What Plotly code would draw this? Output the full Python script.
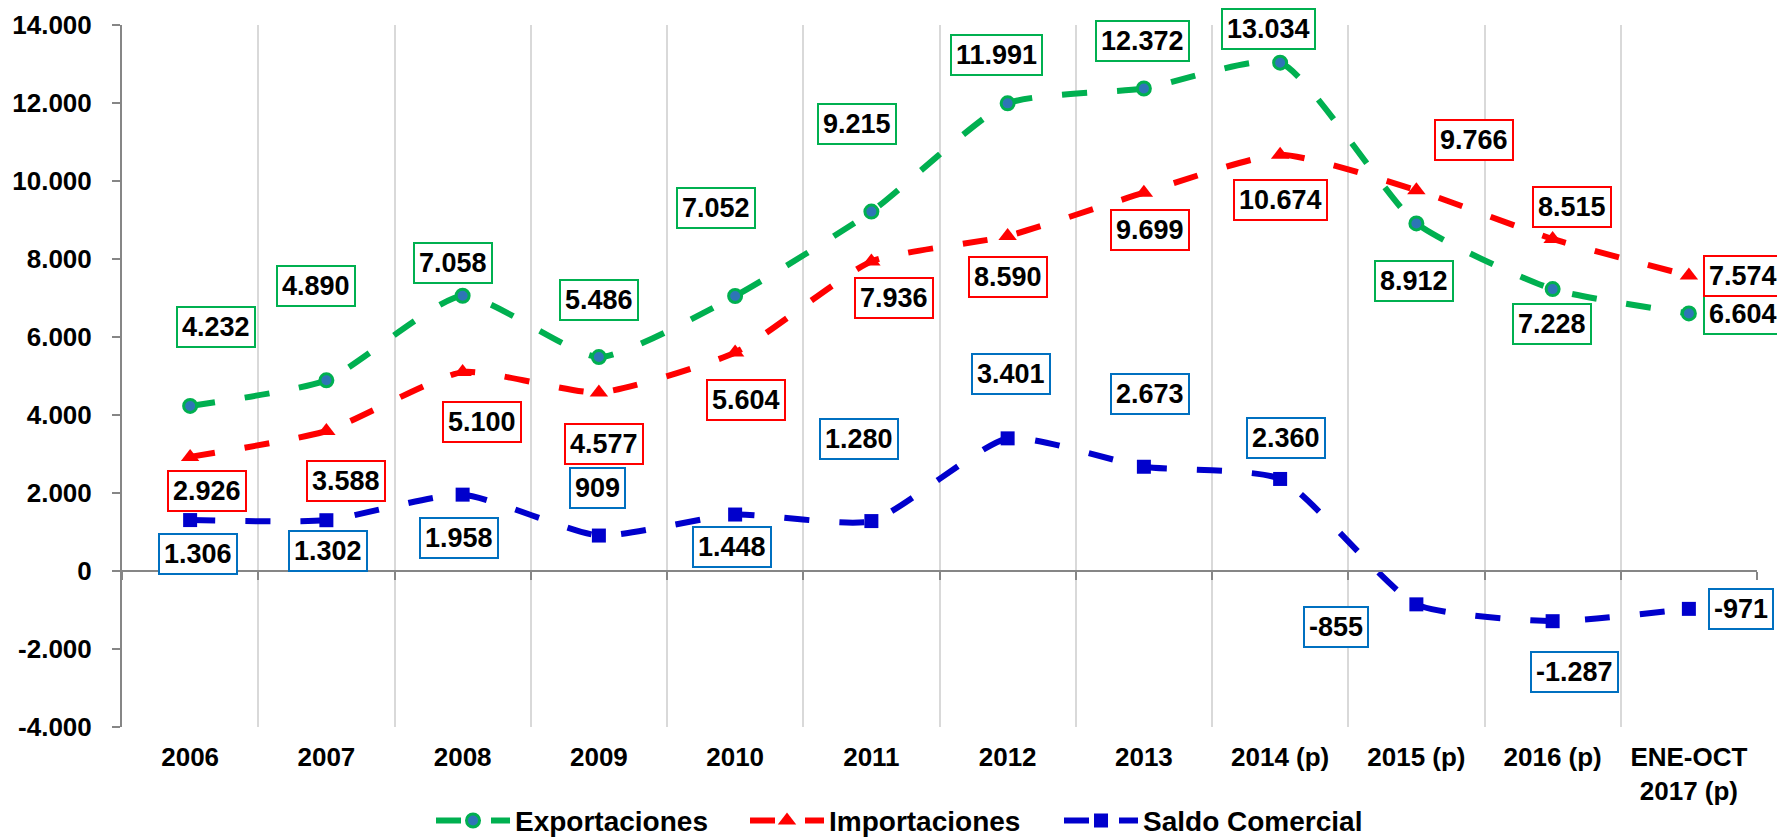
import plotly.graph_objects as go

categories = ["2006", "2007", "2008", "2009", "2010", "2011", "2012", "2013",
              "2014 (p)", "2015 (p)", "2016 (p)", "ENE-OCT<br>2017 (p)"]
exportaciones = [4232, 4890, 7058, 5486, 7052, 9215, 11991, 12372, 13034, 8912, 7228, 6604]
importaciones = [2926, 3588, 5100, 4577, 5604, 7936, 8590, 9699, 10674, 9766, 8515, 7574]
saldo = [1306, 1302, 1958, 909, 1448, 1280, 3401, 2673, 2360, -855, -1287, -971]
y_ticks = [-4000, -2000, 0, 2000, 4000, 6000, 8000, 10000, 12000, 14000]

# label offsets in pixels (dx right, dy down) relative to the point
off_exp = [(26, -79), (-10, -94), (-10, -33), (0, -57), (-19, -88), (-14, -88),
           (-11, -48), (-1, -47), (-12, -34), (-2, 58), (-1, 35), (54, 1)]
off_imp = [(17, 34), (20, 50), (19, 50), (5, 51), (11, 48), (23, 36),
           (0, 41), (6, 37), (0, 45), (58, -50), (19, -32), (54, 0)]
off_sal = [(8, 34), (2, 31), (-4, 43), (-1, -48), (-3, 32), (-12, -82),
           (3, -64), (6, -73), (6, -41), (-80, 23), (22, 51), (52, 0)]


def fmt(v):
    s = f"{abs(v):,}".replace(",", ".")
    return ("-" if v < 0 else "") + s


FONT = "Liberation Sans, Arial, sans-serif"
GREEN = "#00B050"
RED = "#FF0000"
BLUE = "#0000CC"
LBL_BLUE = "#0070C0"
DASH = "25px,30px"
SMOOTH = 0.55

fig = go.Figure()
fig.add_trace(go.Scatter(
    x=categories, y=exportaciones, name="Exportaciones", mode="lines+markers",
    line=dict(color=GREEN, width=6, dash=DASH, shape="spline", smoothing=SMOOTH),
    marker=dict(symbol="circle", size=13, color="#2E75B6", line=dict(color=GREEN, width=3)),
))
fig.add_trace(go.Scatter(
    x=categories, y=importaciones, name="Importaciones", mode="lines+markers",
    line=dict(color=RED, width=6, dash=DASH, shape="spline", smoothing=SMOOTH),
    marker=dict(symbol="triangle-up", size=16, color=RED),
))
fig.add_trace(go.Scatter(
    x=categories, y=saldo, name="Saldo Comercial", mode="lines+markers", xaxis="x2",
    line=dict(color=BLUE, width=6, dash=DASH, shape="spline", smoothing=SMOOTH),
    marker=dict(symbol="square", size=14, color=BLUE),
))

annotations = []
for vals, offs, col in [(exportaciones, off_exp, GREEN), (importaciones, off_imp, RED),
                        (saldo, off_sal, LBL_BLUE)]:
    for i, (v, (dx, dy)) in enumerate(zip(vals, offs)):
        annotations.append(dict(
            x=i, y=v, xref="x", yref="y", text=fmt(v), showarrow=False,
            xshift=dx, yshift=-dy, bgcolor="white", bordercolor=col, borderwidth=2,
            borderpad=4, font=dict(family=FONT, size=27, color="black", weight="bold"),
        ))

fig.update_layout(
    width=1777, height=832,
    margin=dict(l=114, r=28, t=17, b=113, autoexpand=False),
    plot_bgcolor="white", paper_bgcolor="white",
    font=dict(family=FONT, size=26, color="black", weight="bold"),
    showlegend=True,
    legend=dict(orientation="h", x=0.189, xanchor="left", y=-0.098, yanchor="top",
                font=dict(family=FONT, size=28, color="black", weight="bold"),
                itemwidth=74, entrywidth=225, entrywidthmode="pixels"),
    annotations=annotations,
    xaxis=dict(type="category", categoryorder="array", categoryarray=categories,
               range=[-0.5, 11.5], tickson="boundaries", showgrid=True,
               gridcolor="#D9D9D9", gridwidth=2, showline=False, ticks="",
               ticklabelstandoff=12, tickfont=dict(size=26), fixedrange=True),
    xaxis2=dict(type="category", categoryorder="array", categoryarray=categories,
                range=[-0.5, 11.5], overlaying="x", anchor="free",
                position=4000 / 18000, tickson="boundaries", showgrid=False,
                showline=True, linecolor="#868686", linewidth=2, ticks="outside",
                ticklen=8, tickwidth=2, tickcolor="#868686", showticklabels=False,
                fixedrange=True),
    yaxis=dict(range=[-4000, 14000], tickvals=y_ticks, ticktext=[fmt(v) for v in y_ticks],
               showgrid=False, zeroline=False, showline=True, linecolor="#868686",
               linewidth=2, ticks="outside", ticklen=8, tickwidth=2, tickcolor="#868686",
               ticklabelstandoff=15, tickfont=dict(size=26), fixedrange=True),
)

fig.write_html("out.html")
